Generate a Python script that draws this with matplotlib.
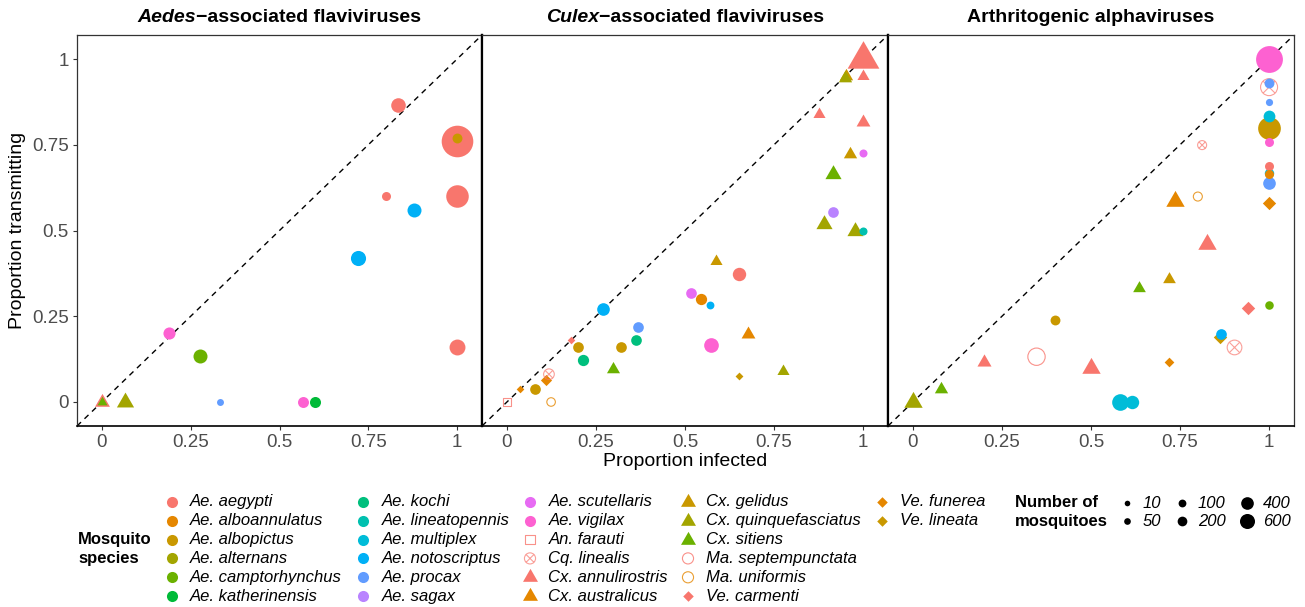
import numpy as np
import matplotlib.pyplot as plt
from matplotlib.path import Path

plt.rcParams['font.family'] = ['Liberation Sans', 'DejaVu Sans']

# Species list (legend order) and ggplot hue palette (14 levels)
species = ["Ae. aegypti", "Ae. alboannulatus", "Ae. albopictus", "Ae. alternans",
           "Ae. camptorhynchus", "Ae. katherinensis", "Ae. kochi", "Ae. lineatopennis",
           "Ae. multiplex", "Ae. notoscriptus", "Ae. procax", "Ae. sagax",
           "Ae. scutellaris", "Ae. vigilax", "An. farauti", "Cq. linealis",
           "Cx. annulirostris", "Cx. australicus", "Cx. gelidus", "Cx. quinquefasciatus",
           "Cx. sitiens", "Ma. septempunctata", "Ma. uniformis", "Ve. carmenti",
           "Ve. funerea", "Ve. lineata"]
hue14 = ["#F8766D", "#E58700", "#C99800", "#A3A500", "#6BB100", "#00BA38", "#00BF7D",
         "#00C0AF", "#00BCD8", "#00B0F6", "#619CFF", "#B983FF", "#E76BF3", "#FD61D1"]
genus_shape = {"Ae": "circle", "An": "square", "Cq": "circlex", "Cx": "triangle",
               "Ma": "open", "Ve": "diamond"}

# Panel 1: Aedes-associated flaviviruses
aedes_species = ["Ae. aegypti", "Ae. aegypti", "Ae. albopictus", "Ae. aegypti", "Ae. aegypti",
                 "Ae. notoscriptus", "Ae. notoscriptus", "Ae. aegypti", "Ae. vigilax",
                 "Ae. camptorhynchus", "Ae. procax", "Ae. vigilax", "Ae. katherinensis",
                 "Cx. annulirostris", "Cx. sitiens", "Cx. quinquefasciatus"]
aedes_infected = [0.834, 1.0, 1.0, 0.8, 1.0, 0.88, 0.72, 1.0, 0.19, 0.277, 0.333, 0.566, 0.6,
                  0.0, 0.0, 0.066]
aedes_transmitting = [0.867, 0.76, 0.769, 0.6, 0.6, 0.559, 0.42, 0.159, 0.2, 0.135, 0.0, 0.0, 0.0,
                      0.0, 0.0, 0.0]
aedes_n = [120, 600, 50, 40, 300, 110, 130, 145, 80, 110, 20, 64, 65, 65, 24, 90]

# Panel 2: Culex-associated flaviviruses
culex_species = ["Cx. annulirostris", "Cx. gelidus", "Cx. quinquefasciatus", "Cx. annulirostris",
                 "Cx. annulirostris", "Cx. annulirostris", "Cx. gelidus", "Ae. scutellaris",
                 "Cx. sitiens", "Ae. sagax", "Cx. quinquefasciatus", "Cx. quinquefasciatus",
                 "Ae. lineatopennis", "Cx. gelidus", "Ae. aegypti", "Ae. scutellaris",
                 "Ae. alboannulatus", "Ae. notoscriptus", "Ae. notoscriptus", "Ae. procax",
                 "Ae. kochi", "Ae. albopictus", "Ae. albopictus", "Ae. kochi", "Ae. vigilax",
                 "Cx. australicus", "Cx. quinquefasciatus", "Ve. lineata", "Cx. sitiens",
                 "Ve. carmenti", "Cq. linealis", "Ve. funerea", "Ve. funerea", "Ae. albopictus",
                 "An. farauti", "Ma. uniformis"]
culex_infected = [1.0, 0.951, 0.948, 1.0, 0.876, 1.0, 0.963, 1.0, 0.916, 0.916, 0.89, 0.977,
                  1.0, 0.586, 0.652, 0.518, 0.546, 0.57, 0.27, 0.369, 0.362, 0.319, 0.199,
                  0.214, 0.572, 0.678, 0.775, 0.652, 0.299, 0.181, 0.118, 0.111, 0.037, 0.08,
                  0.0, 0.124]
culex_transmitting = [1.0, 0.95, 0.945, 0.95, 0.84, 0.815, 0.724, 0.727, 0.664, 0.554, 0.518,
                      0.498, 0.5, 0.41, 0.374, 0.319, 0.3, 0.284, 0.271, 0.22, 0.18, 0.159,
                      0.159, 0.123, 0.166, 0.198, 0.09, 0.076, 0.097, 0.18, 0.081, 0.064, 0.037,
                      0.039, 0.0, 0.0]
culex_n = [330, 50, 50, 40, 40, 55, 50, 30, 78, 60, 78, 78, 30, 40, 100, 60, 68, 28, 88, 60,
           60, 60, 60, 68, 122, 55, 40, 32, 48, 30, 60, 75, 30, 60, 50, 35]

# Panel 3: Arthritogenic alphaviruses
alpha_species = ["Ae. vigilax", "Ae. procax", "Cq. linealis", "Ae. procax", "Ae. multiplex",
                 "Ae. albopictus", "Ae. vigilax", "Cq. linealis", "Ae. aegypti", "Ae. multiplex",
                 "Ae. alboannulatus", "Ae. procax", "Ve. funerea", "Ma. uniformis",
                 "Cx. australicus", "Cx. annulirostris", "Cx. gelidus", "Cx. sitiens",
                 "Ae. camptorhynchus", "Ve. carmenti", "Ae. albopictus", "Ve. lineata",
                 "Ae. notoscriptus", "Cq. linealis", "Ma. septempunctata", "Cx. annulirostris",
                 "Cx. annulirostris", "Ve. funerea", "Cx. sitiens", "Cx. quinquefasciatus",
                 "Ae. multiplex", "Ae. multiplex"]
alpha_infected = [1.0, 1.0, 1.0, 1.0, 1.0, 1.0, 1.0, 0.812, 1.0, 1.0, 1.0, 1.0, 1.0, 0.8, 0.735,
                  0.826, 0.72, 0.636, 1.0, 0.941, 0.4, 0.861, 0.866, 0.903, 0.347, 0.2, 0.5,
                  0.72, 0.08, 0.0, 0.581, 0.615]
alpha_transmitting = [1.0, 0.93, 0.918, 0.874, 0.834, 0.8, 0.759, 0.749, 0.688, 0.668, 0.666,
                      0.639, 0.581, 0.599, 0.586, 0.46, 0.358, 0.331, 0.284, 0.274, 0.239, 0.19,
                      0.198, 0.159, 0.132, 0.118, 0.1, 0.118, 0.038, 0.0, 0.0, 0.0]
alpha_n = [430, 50, 167, 22, 75, 305, 40, 40, 40, 45, 40, 88, 110, 40, 104, 104, 45, 45, 35,
           112, 50, 112, 60, 122, 174, 57, 104, 54, 50, 104, 160, 100]

panel_titles = [("Aedes", "\u2212associated flaviviruses"),
                ("Culex", "\u2212associated flaviviruses"),
                ("", "Arthritogenic alphaviruses")]
ticks = [0, 0.25, 0.5, 0.75, 1]
tick_labels = ["0", "0.25", "0.5", "0.75", "1"]
size_breaks = [10, 50, 100, 200, 400, 600]

# marker paths (ggplot-like shapes)
tri_path = Path([[0, 1], [-0.866, -0.5], [0.866, -0.5], [0, 1]],
                [Path.MOVETO, Path.LINETO, Path.LINETO, Path.CLOSEPOLY])
dia_path = Path([[0, 1], [1, 0], [0, -1], [-1, 0], [0, 1]],
                [Path.MOVETO, Path.LINETO, Path.LINETO, Path.LINETO, Path.CLOSEPOLY])
cx_path = Path.make_compound_path(
    Path.unit_circle(),
    Path([[-0.707, -0.707], [0.707, 0.707]], [Path.MOVETO, Path.LINETO]),
    Path([[-0.707, 0.707], [0.707, -0.707]], [Path.MOVETO, Path.LINETO]))


def style_for(sp):
    genus = sp.split(".")[0]
    same = [s for s in species if s.startswith(genus + ".")]
    return genus_shape[genus], hue14[same.index(sp)]


def draw_point(ax, x, y, sp, d, z):
    # d = equivalent circle diameter in points
    shape, col = style_for(sp)
    if shape == "circle":
        ax.scatter([x], [y], s=d ** 2, marker="o", color=col, linewidths=0, zorder=z)
    elif shape == "triangle":
        ax.scatter([x], [y], s=(1.555 * d) ** 2, marker=tri_path, color=col, linewidths=0, zorder=z)
    elif shape == "diamond":
        ax.scatter([x], [y], s=(0.95 * d) ** 2, marker=dia_path, color=col, linewidths=0, zorder=z)
    elif shape == "square":
        ax.scatter([x], [y], s=(0.886 * d) ** 2, marker="s", facecolors="none", edgecolors=col,
                   linewidths=0.8, alpha=0.8, zorder=z)
    elif shape == "open":
        ax.scatter([x], [y], s=d ** 2, marker="o", facecolors="none", edgecolors=col,
                   linewidths=0.8, alpha=0.8, zorder=z)
    else:
        ax.scatter([x], [y], s=d ** 2, marker=cx_path, facecolors="none", edgecolors=col,
                   linewidths=0.8, alpha=0.7, zorder=z)


def plot_diam(n):
    return np.sqrt(8 + 0.85 * n)


W, H = 1305, 607
fig = plt.figure(figsize=(W / 100, H / 100), dpi=100)

panels = [(aedes_species, aedes_infected, aedes_transmitting, aedes_n),
          (culex_species, culex_infected, culex_transmitting, culex_n),
          (alpha_species, alpha_infected, alpha_transmitting, alpha_n)]
lefts = [77, 482, 888]
width_px = [405, 406, 406]
axes = []
for i, (sp_list, xs, ys, ns) in enumerate(panels):
    ax = fig.add_axes([lefts[i] / W, (H - 426) / H, width_px[i] / W, 391 / H])
    axes.append(ax)
    ax.set_xlim(-0.07, 1.07)
    ax.set_ylim(-0.07, 1.07)
    ax.plot([-0.07, 1.07], [-0.07, 1.07], color="black", lw=1.0, ls=(0, (4, 3.5)), zorder=1)
    order = np.argsort(-np.array(ns), kind="stable")
    for z, k in enumerate(order):
        draw_point(ax, xs[k], ys[k], sp_list[k], plot_diam(ns[k]), 2 + z * 0.01)
    ax.set_xticks(ticks)
    ax.set_xticklabels(tick_labels)
    ax.set_yticks(ticks)
    ax.set_yticklabels(tick_labels)
    ax.tick_params(axis="both", direction="out", length=3, width=0.8, color="#333333",
                   labelcolor="#4D4D4D", labelsize=13.5, pad=3)
    if i > 0:
        ax.tick_params(axis="y", left=False, labelleft=False)
    for side in ["top", "right", "left"]:
        ax.spines[side].set_color("#333333")
        ax.spines[side].set_linewidth(0.9)
    ax.spines["bottom"].set_color("black")
    ax.spines["bottom"].set_linewidth(1.2)
    if i < 2:
        ax.spines["right"].set_color("black")
        ax.spines["right"].set_linewidth(1.6)
    if i > 0:
        ax.spines["left"].set_color("black")
        ax.spines["left"].set_linewidth(1.6)

# panel titles with italic genus part
fig.canvas.draw()
renderer = fig.canvas.get_renderer()
for i, (ital, rest) in enumerate(panel_titles):
    cx = (lefts[i] + width_px[i] / 2) / W
    ty = 1 - 18 / H
    t1 = fig.text(0, ty, ital, style="italic", weight="bold", size=14, va="center", ha="left")
    t2 = fig.text(0, ty, rest, weight="bold", size=14, va="center", ha="left")
    w1 = t1.get_window_extent(renderer).width if ital else 0
    w2 = t2.get_window_extent(renderer).width
    left = cx * W - (w1 + w2) / 2
    t1.set_x(left / W)
    t2.set_x((left + w1) / W)

fig.text(685 / W, 1 - 461 / H, "Proportion infected", size=14, ha="center", va="center")
fig.text(18 / W, 1 - 230 / H, "Proportion transmitting", size=14, ha="center", va="center",
         rotation=90)

# legends drawn on an overlay axes in pixel coordinates
lg = fig.add_axes([0, 0, 1, 1], zorder=-1)
lg.set_xlim(0, W)
lg.set_ylim(H, 0)
lg.axis("off")

lg.text(78, 549, "Mosquito\nspecies", weight="bold", size=12, ha="left", va="center",
        linespacing=1.3)
col_x = [171.7, 363, 530, 688, 882]
for k, sp in enumerate(species):
    c, r = divmod(k, 6)
    x, y = col_x[c], 501.7 + 18.9 * r
    draw_point(lg, x, y, sp, 8.0, 3)
    lg.text(x + 18.5, y, sp, style="italic", size=12, ha="left", va="center")

lg.text(1015, 512, "Number of\nmosquitoes", weight="bold", size=12, ha="left", va="center",
        linespacing=1.3)
size_x = [1127, 1182, 1247]
for k, n in enumerate(size_breaks):
    c, r = divmod(k, 2)
    x, y = size_x[c], 503 + 18 * r
    d_px = np.sqrt(28 + 0.33 * n)
    lg.scatter([x], [y], s=(d_px * 0.72) ** 2, color="black", linewidths=0)
    lg.text(x + 16, y, str(n), style="italic", size=12, ha="left", va="center")

fig.savefig("out.png", dpi=100)
